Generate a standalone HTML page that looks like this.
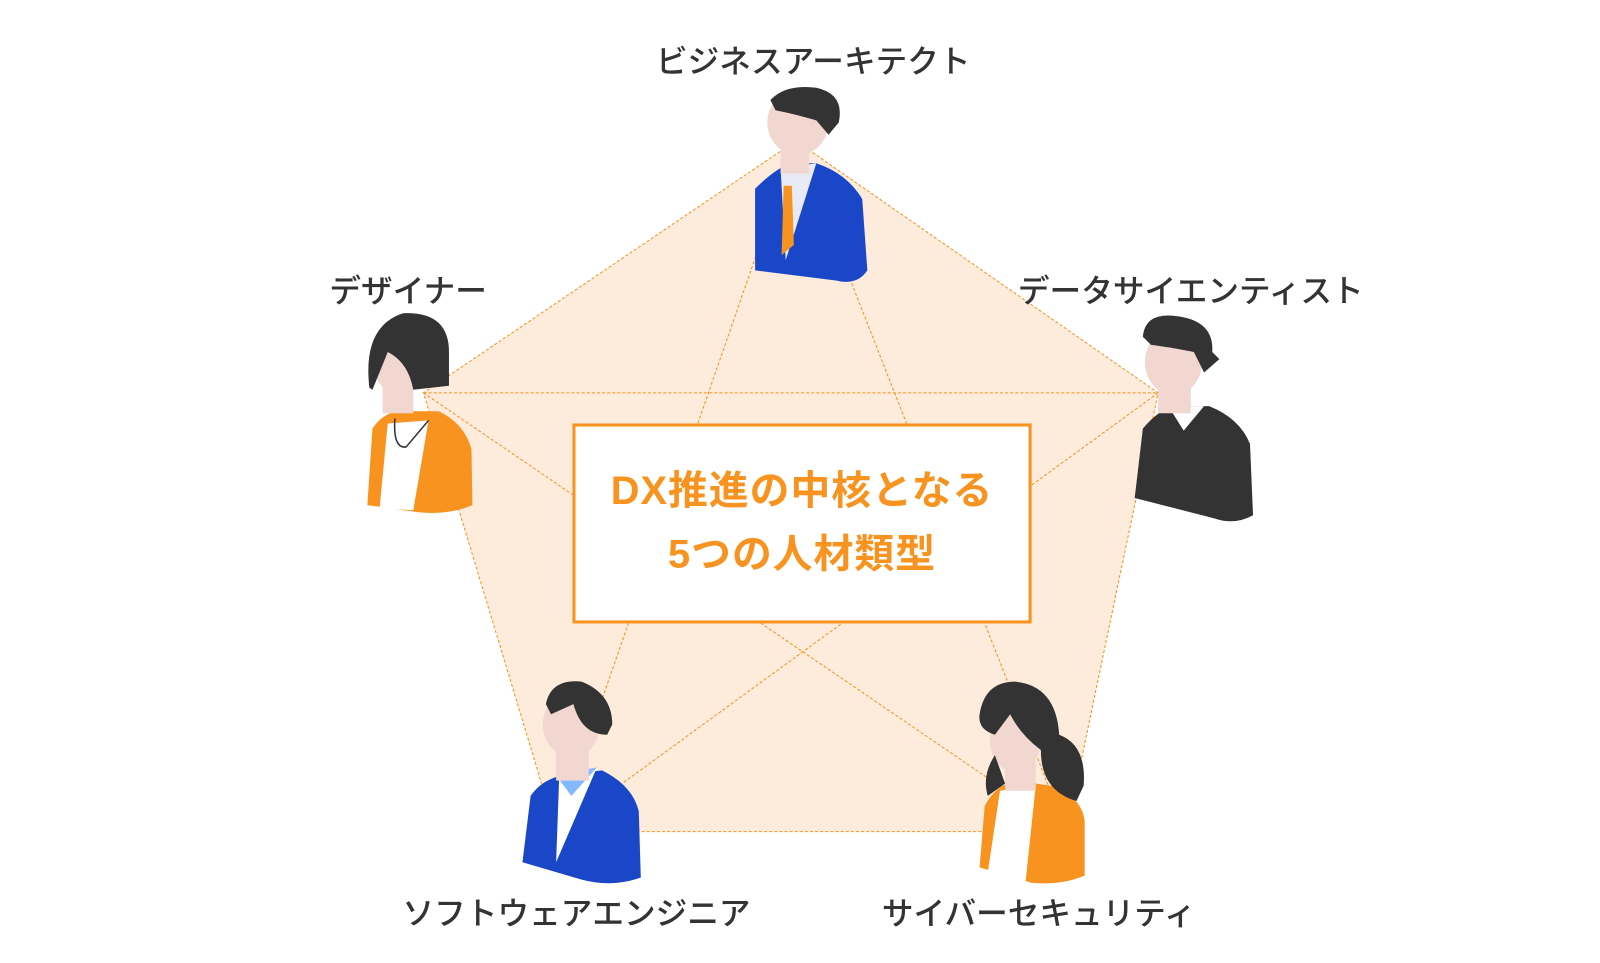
<!DOCTYPE html>
<html><head><meta charset="utf-8"><style>
body{margin:0;width:1600px;height:963px;background:#fff;overflow:hidden;font-family:"Liberation Sans","Noto Sans CJK JP",sans-serif}
#w{position:absolute;left:0;top:0;width:1568px;height:944px;transform:scale(1.0204);transform-origin:0 0}
.l{position:absolute;font-size:31px;color:#333;white-space:nowrap;transform:translateX(-50%);font-weight:500}
.box{position:absolute;left:561px;top:415px;width:444px;height:190px;border:3px solid #f7931e;background:#fff;color:#f7931e;font-weight:bold;font-size:39px;text-align:center;line-height:62px;display:flex;align-items:center;justify-content:center;letter-spacing:1px}
</style></head><body><div id="w">
<svg width="1568" height="944" style="position:absolute;left:0;top:0">
<polygon points="780,138 1135,385 1045,815 545,815 415,385" fill="#fdebdc"/>
<g stroke="#f7931e" stroke-width="1" stroke-dasharray="3,2" fill="none">
<polygon points="780,138 1135,385 1045,815 545,815 415,385"/>
<line x1="780" y1="138" x2="545" y2="815"/><line x1="780" y1="138" x2="1045" y2="815"/>
<line x1="415" y1="385" x2="1135" y2="385"/><line x1="415" y1="385" x2="1045" y2="815"/>
<line x1="1135" y1="385" x2="545" y2="815"/>
</g>
<g>
<path d="M740 185 Q760 165 775 160 L800 160 Q830 170 845 195 L850 265 Q840 280 820 275 L740 265 Z" fill="#1a47c8"/>
<path d="M765 165 L800 160 L770 255 Z" fill="#e8ebf5"/><path d="M768 182 L776 182 L778 240 L766 250 Z" fill="#f7931e"/>
<rect x="765" y="130" width="28" height="40" fill="#f2d6d0"/>
<ellipse cx="782" cy="120" rx="30" ry="32" fill="#f2d6d0"/>
<path d="M755 98 Q770 82 800 86 Q828 92 822 120 L812 132 L800 118 Q780 112 760 108 Z" fill="#333"/>
</g>
<g>
<path d="M365 420 Q375 405 390 403 L430 403 Q455 415 462 440 L463 495 Q440 505 410 502 L360 495 Z" fill="#f7931e"/>
<path d="M380 415 L420 412 L405 500 L372 498 Z" fill="#fff"/>
<rect x="375" y="360" width="30" height="45" fill="#f2d6d0"/>
<ellipse cx="388" cy="355" rx="22" ry="30" fill="#f2d6d0"/>
<path d="M362 380 Q355 320 395 307 Q440 305 440 345 L440 378 L405 382 Q400 355 380 345 L365 382 Z" fill="#333"/>
<path d="M387 410 Q385 440 398 438 L420 412" stroke="#333" fill="none" stroke-width="1.5"/>
</g>
<g>
<path d="M1120 420 Q1135 402 1150 398 L1185 398 Q1215 410 1225 435 L1228 505 Q1210 515 1190 508 L1112 488 Z" fill="#333"/>
<path d="M1145 398 L1180 398 L1160 422 Z" fill="#fff"/>
<rect x="1135" y="365" width="32" height="40" fill="#f2d6d0"/>
<ellipse cx="1150" cy="355" rx="28" ry="32" fill="#f2d6d0"/>
<path d="M1120 330 Q1122 305 1155 310 Q1190 315 1188 345 L1195 352 L1180 365 L1170 345 Q1145 340 1128 338 Z" fill="#333"/>
</g>
<g>
<path d="M520 780 Q530 765 550 760 L590 755 Q620 770 626 795 L628 860 Q600 870 570 862 L512 845 Z" fill="#1a47c8"/>
<path d="M548 762 L585 752 L545 845 Z" fill="#fff"/><path d="M545 760 L585 752 L560 780 Z" fill="#84b8ff"/>
<rect x="545" y="720" width="32" height="45" fill="#f2d6d0"/>
<ellipse cx="560" cy="710" rx="28" ry="32" fill="#f2d6d0"/>
<path d="M535 690 Q540 665 570 668 Q600 680 600 710 L595 720 Q570 720 562 690 L540 700 Z" fill="#333"/>
</g>
<g>
<path d="M965 790 Q975 770 995 765 L1030 770 Q1060 780 1063 805 L1063 858 Q1040 868 1010 865 L960 850 Z" fill="#f7931e"/>
<path d="M980 775 L1015 770 L1005 865 L968 855 Z" fill="#fff"/>
<rect x="985" y="735" width="30" height="40" fill="#f2d6d0"/>
<ellipse cx="995" cy="725" rx="25" ry="32" fill="#f2d6d0"/>
<path d="M960 700 Q965 668 995 668 Q1035 672 1038 720 Q1065 730 1062 770 L1055 785 Q1020 775 1020 735 Q1000 720 990 700 L975 720 Q958 715 960 700 Z" fill="#333"/>
<path d="M975 740 Q962 760 968 780 L985 768 Z" fill="#333"/>
</g>
</svg>
<div class="l" style="left:797px;top:35px">ビジネスアーキテクト</div>
<div class="l" style="left:400px;top:260px">デザイナー</div>
<div class="l" style="left:1167px;top:260px">データサイエンティスト</div>
<div class="l" style="left:565px;top:870px">ソフトウェアエンジニア</div>
<div class="l" style="left:1018px;top:870px">サイバーセキュリティ</div>
<div class="box">DX推進の中核となる<br>5つの人材類型</div>
</div></body></html>
